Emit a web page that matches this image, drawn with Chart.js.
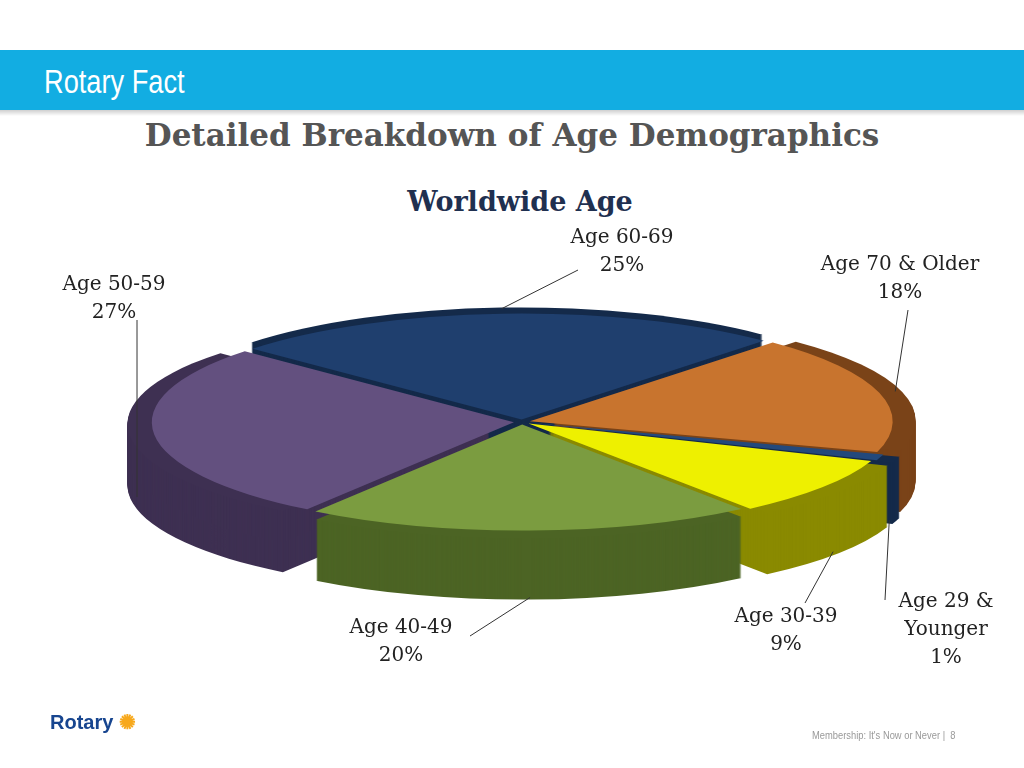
<!DOCTYPE html>
<html><head><meta charset="utf-8">
<script src="https://cdn.jsdelivr.net/npm/chart.js@4/dist/chart.umd.min.js"></script>
<style>
html,body{margin:0;padding:0;background:#fff;}
#wrap{position:relative;width:1024px;height:768px;overflow:hidden;background:#fff;}
#band{position:absolute;left:0;top:50px;width:1024px;height:60px;background:#12ade2;}
#band span{position:absolute;left:44px;top:12px;color:#fff;font:34px "Liberation Sans",sans-serif;transform:scaleX(0.8);transform-origin:0 0;}
#shadow{position:absolute;left:0;top:110px;width:1024px;height:6px;background:linear-gradient(#cfcfcf,#fff);}
.t{position:absolute;font-family:"DejaVu Serif",serif;}
#title{left:0;width:1024px;top:117px;text-align:center;font-weight:bold;font-size:31px;color:#555;}
#sub{left:0;width:1040px;top:186px;text-align:center;font-weight:bold;font-size:27px;color:#1f3050;}
#c{position:absolute;left:0;top:0;}
#logo{position:absolute;left:50px;top:710px;font:bold 20px "Liberation Sans",sans-serif;color:#17458f;}
#foot{position:absolute;left:812px;top:729px;font:11px "Liberation Sans",sans-serif;color:#999;transform:scaleX(0.85);transform-origin:0 0;}
</style></head><body>
<div id="wrap">
<div id="band"><span>Rotary Fact</span></div><div id="shadow"></div>
<div class="t" id="title">Detailed Breakdown of Age Demographics</div>
<div class="t" id="sub">Worldwide Age</div>
<canvas id="c" width="1024" height="768"></canvas>
<div id="logo">Rotary <span style="color:#f7a81b">✺</span></div>
<div id="foot">Membership: It's Now or Never | &nbsp;8</div>
</div>
<script>
const categories = ["Age 60-69","Age 70 & Older","Age 29 & Younger","Age 30-39","Age 40-49","Age 50-59"];
const values = [25,18,1,9,20,27];
const colors = ["#1f3f6e","#c8742e","#23497c","#eef000","#7b9c40","#63507f"];
const sideColors = ["#142a4a","#7a4318","#142a4a","#8a8a00","#4c6424","#3e3052"];
const labelText = [["Age 60-69","25%"],["Age 70 & Older","18%"],["Age 29 &","Younger","1%"],["Age 30-39","9%"],["Age 40-49","20%"],["Age 50-59","27%"]];
const labelPos = [[622,228],[900,255],[946,592],[786,607],[401,618],[114,275]];
const lineEnd = [[578,270],[908,310],[885,600],[805,603],[470,636],[137,320]];

const CX=522, CY=422, RX=362, RY=106, DEPTH=62;
function tf(chart){
  const a=chart.chartArea, r=chart.getDatasetMeta(0).data[0].outerRadius;
  const cx=(a.left+a.right)/2, cy=(a.top+a.bottom)/2;
  return {cx,cy,sx:RX/r,sy:RY/r};
}
const threeD = {
  id:'threeD',
  beforeDatasetsDraw(chart){
    const ctx=chart.ctx, t=tf(chart), arcs=chart.getDatasetMeta(0).data;
    const order=arcs.map((a,i)=>i).sort((i,j)=>{
      const m=k=>Math.sin((arcs[k].startAngle+arcs[k].endAngle)/2);return m(i)-m(j);});
    for(let d=DEPTH; d>=1; d-=1){
      for(const i of order){
        const a=arcs[i], mid=(a.startAngle+a.endAngle)/2, off=a.options.offset||0;
        const x=a.x+Math.cos(mid)*off, y=a.y+Math.sin(mid)*off;
        ctx.save();
        ctx.translate(CX, CY+d); ctx.scale(t.sx,t.sy); ctx.translate(-t.cx,-t.cy);
        ctx.beginPath(); ctx.moveTo(x,y); ctx.arc(x,y,a.outerRadius,a.startAngle,a.endAngle); ctx.closePath();
        ctx.fillStyle=sideColors[i]; ctx.fill();
        ctx.restore();
      }
    }
    ctx.save();
    ctx.translate(CX,CY); ctx.scale(t.sx,t.sy); ctx.translate(-t.cx,-t.cy);
  },
  afterDatasetsDraw(chart){
    chart.ctx.restore();
    const ctx=chart.ctx;
    ctx.font='20px "DejaVu Serif", serif';
    ctx.fillStyle='#222'; ctx.textAlign='center'; ctx.textBaseline='top';
    labelText.forEach((ls,i)=>{
      ls.forEach((s,k)=>ctx.fillText(s,labelPos[i][0],labelPos[i][1]+k*28));
    });
    const t=tf(chart), arcs=chart.getDatasetMeta(0).data;
    ctx.strokeStyle='#333'; ctx.lineWidth=1;
    arcs.forEach((a,i)=>{
      const mid=(a.startAngle+a.endAngle)/2, off=a.options.offset||0;
      const r=off+a.outerRadius*0.98;
      let px=CX+Math.cos(mid)*r*t.sx, py=CY+Math.sin(mid)*r*t.sy;
      if(Math.sin(mid)>0) py+=DEPTH;
      ctx.beginPath(); ctx.moveTo(px,py); ctx.lineTo(lineEnd[i][0],lineEnd[i][1]); ctx.stroke();
    });
  }
};
new Chart(document.getElementById('c'),{
  type:'pie',
  data:{labels:categories,datasets:[{data:values,backgroundColor:colors,borderWidth:0,offset:22}]},
  options:{responsive:false,animation:false,rotation:-48,
    layout:{padding:{top:200,bottom:60,left:100,right:100}},
    plugins:{legend:{display:false},tooltip:{enabled:false}}},
  plugins:[threeD]
});
</script>
</body></html>
